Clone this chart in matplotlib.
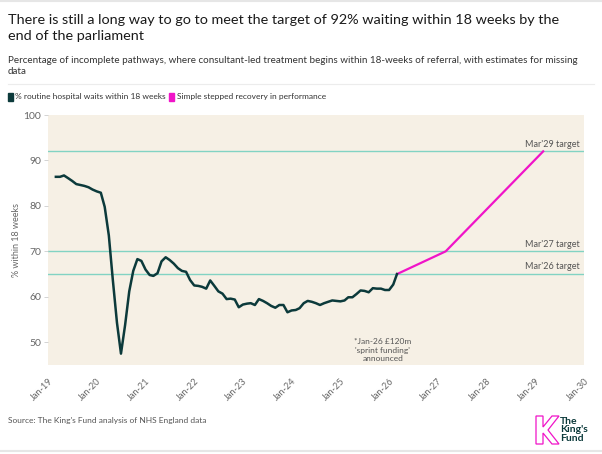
import numpy as np
import pandas as pd
import matplotlib.pyplot as plt
import matplotlib.dates as mdates
from matplotlib.patches import Polygon

plt.rcParams['font.family'] = ['Lato', 'DejaVu Sans']

# monthly performance, Mar-2019 .. Mar-2026
months = pd.date_range('2019-03-01', '2026-03-01', freq='MS')
waits = [86.4, 86.4, 86.7, 86.1, 85.5, 84.8, 84.6, 84.4, 84.1, 83.6,
         83.2, 82.9, 79.8, 73.5, 63.7, 54.3, 47.5, 53.8, 61.2, 65.7,
         68.3, 67.9, 66.0, 64.8, 64.6, 65.2, 67.8, 68.7, 68.1, 67.3,
         66.3, 65.7, 65.5, 63.7, 62.5, 62.4, 62.2, 61.8, 63.6, 62.4,
         61.2, 60.7, 59.5, 59.6, 59.4, 57.7, 58.3, 58.5, 58.6, 58.2,
         59.5, 59.1, 58.6, 58.0, 57.6, 58.2, 58.2, 56.6, 57.0, 57.1,
         57.5, 58.6, 59.1, 58.9, 58.6, 58.2, 58.6, 58.9, 59.2, 59.1,
         59.0, 59.2, 59.9, 59.9, 60.6, 61.4, 61.3, 61.0, 61.9, 61.8,
         61.8, 61.5, 61.5, 62.7, 65.0]

# stepped recovery
recovery_dates = pd.to_datetime(['2026-03-01', '2027-03-01', '2029-03-01'])
recovery_vals = [65.0, 70.0, 92.0]

targets = [92, 70, 65]
target_labels = ["Mar'29 target", "Mar'27 target", "Mar'26 target"]

years = list(range(2019, 2031))
tick_dates = pd.to_datetime([f'{y}-01-01' for y in years])
tick_labels = [f'Jan-{str(y)[2:]}' for y in years]

DARK = '#0c3a3b'
PINK = '#f014c8'
TEAL = '#82d3c3'
GREY = '#666666'

fig = plt.figure(figsize=(6.02, 4.54), dpi=100)
fig.patch.set_facecolor('white')
ax = fig.add_axes([48/602, 89/454, 536/602, 250/454])
ax.set_facecolor('#f6f0e5')

for t in targets:
    ax.axhline(t, color=TEAL, lw=1.0, zorder=1)
for t, lab in zip(targets, target_labels):
    ax.text(0.993, t + 0.6, lab, transform=ax.get_yaxis_transform(),
            ha='right', va='bottom', fontsize=6.5, color='#555555')

ax.plot(months, waits, color=DARK, lw=1.8, zorder=3, solid_joinstyle='round')
ax.plot(recovery_dates, recovery_vals, color=PINK, lw=1.6, zorder=2)

ax.text(pd.Timestamp('2025-11-15'), 48.3,
        "*Jan-26 £120m\n'sprint funding'\nannounced",
        ha='center', va='center', fontsize=6, color='#555555', linespacing=1.3)

ax.set_xlim(pd.Timestamp('2019-01-01'), pd.Timestamp('2030-01-01'))
ax.set_ylim(45, 100)
ax.set_xticks(tick_dates)
ax.set_xticklabels(tick_labels, rotation=45, ha='right', rotation_mode='anchor',
                   fontsize=6.6, color=GREY)
ax.set_yticks([50, 60, 70, 80, 90, 100])
ax.tick_params(axis='y', labelsize=7.5, labelcolor=GREY, color='#cccccc',
               length=3, width=0.6, pad=2)
ax.tick_params(axis='x', length=0, pad=8)
ax.set_ylabel('% within 18 weeks', fontsize=6.5, color=GREY, labelpad=2)
for s in ax.spines.values():
    s.set_visible(False)

# titles
fig.text(8/602, 1 - 28/454, 'There is still a long way to go to meet the target of 92% waiting within 18 weeks by the\nend of the parliament',
         fontsize=10.4, color='#1a1a1a', va='center', ha='left', linespacing=1.35)
fig.text(8/602, 1 - 66/454, 'Percentage of incomplete pathways, where consultant-led treatment begins within 18-weeks of referral, with estimates for missing\ndata',
         fontsize=7.15, color='#333333', va='center', ha='left', linespacing=1.35)
fig.add_artist(plt.Line2D([8/602, 594/602], [1 - 84/454] * 2, color='#ececec', lw=0.8))
fig.add_artist(plt.Line2D([0, 1], [1 - 1/454] * 2, color='#e6e6e6', lw=1.5))
fig.add_artist(plt.Line2D([0, 1], [1 - 451/454] * 2, color='#e6e6e6', lw=1.5))

# legend
fig.patches.append(plt.Rectangle((8/602, 1 - 101/454), 5/602, 8/454, color=DARK,
                                 transform=fig.transFigure, figure=fig))
fig.text(15/602, 1 - 97/454, '% routine hospital waits within 18 weeks', fontsize=6.0,
         color='#333333', va='center')
fig.patches.append(plt.Rectangle((169/602, 1 - 101/454), 5/602, 8/454, color=PINK,
                                 transform=fig.transFigure, figure=fig))
fig.text(177/602, 1 - 97/454, 'Simple stepped recovery in performance', fontsize=6.0,
         color='#333333', va='center')

fig.text(8/602, 1 - 421/454, "Source: The King's Fund analysis of NHS England data",
         fontsize=6, color='#555555', va='center')

# logo
def fx(x): return x / 602
def fy(y): return 1 - y / 454
k_pts = [(536, 416), (543, 416), (543, 427), (552, 416), (559, 416), (548, 430),
         (559, 444), (552, 444), (543, 433), (543, 444), (536, 444)]
fig.patches.append(Polygon([(fx(x), fy(y)) for x, y in k_pts], closed=True, fill=False,
                           edgecolor=PINK, lw=0.9, transform=fig.transFigure, figure=fig))
fig.text(fx(560), fy(430), "The\nKing's\nFund", fontsize=7.5, fontweight='bold',
         color=DARK, va='center', ha='left', linespacing=0.95)

fig.savefig('out.png', dpi=100, facecolor='white')
